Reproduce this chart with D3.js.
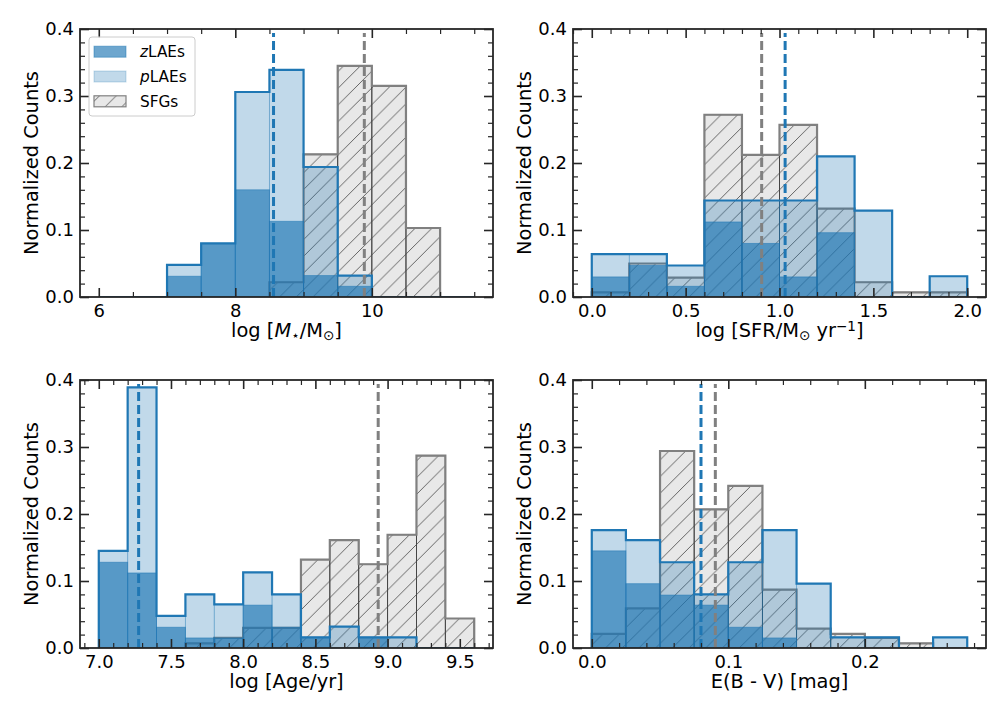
<!DOCTYPE html>
<html>
<head>
<meta charset="utf-8">
<script src="https://cdn.jsdelivr.net/npm/d3@7"></script>
<style>
  body { margin: 0; background: #fff; }
  text { font-family: "DejaVu Sans", sans-serif; white-space: pre; }
</style>
</head>
<body>
<div id="chart"></div>
<script>
// ---- data: bin left edges + normalized counts per sample ----
// stellar mass (bin width 0.5)
const massBins = [6.0, 6.5, 7.0, 7.5, 8.0, 8.5, 9.0, 9.5, 10.0, 10.5, 11.0];
const massZ = [0, 0, 0.031, 0.080, 0.160, 0.113, 0.032, 0.016, 0, 0, 0];
const massP = [0, 0, 0.048, 0.080, 0.306, 0.339, 0.194, 0.032, 0, 0, 0];
const massS = [0, 0, 0, 0, 0, 0.022, 0.213, 0.345, 0.315, 0.103, 0];
const massMedians = [8.56, 9.89]; // LAEs, SFGs
const massTicks = [6, 8, 10];

// SFR (bin width 0.2)
const sfrBins = [0.0, 0.2, 0.4, 0.6, 0.8, 1.0, 1.2, 1.4, 1.6, 1.8];
const sfrZ = [0.030, 0.047, 0.016, 0.112, 0.080, 0.030, 0.096, 0, 0, 0];
const sfrP = [0.064, 0.064, 0.047, 0.144, 0.144, 0.144, 0.210, 0.129, 0, 0.031];
const sfrS = [0.007, 0.050, 0.029, 0.272, 0.212, 0.257, 0.132, 0.022, 0.007, 0.007];
const sfrMedians = [1.03, 0.905];
const sfrTicks = [0.0, 0.5, 1.0, 1.5, 2.0];

// age (bin width 0.2)
const ageBins = [7.0, 7.2, 7.4, 7.6, 7.8, 8.0, 8.2, 8.4, 8.6, 8.8, 9.0, 9.2, 9.4];
const ageZ = [0.128, 0.112, 0.031, 0.015, 0.015, 0.064, 0.031, 0.016, 0, 0.016, 0, 0, 0];
const ageP = [0.145, 0.389, 0.048, 0.080, 0.065, 0.113, 0.080, 0.016, 0.032, 0.016, 0.016, 0, 0];
const ageS = [0, 0, 0, 0.007, 0.015, 0.030, 0.030, 0.132, 0.161, 0.125, 0.169, 0.287, 0.044];
const ageMedians = [7.276, 8.935];
const ageTicks = [7.0, 7.5, 8.0, 8.5, 9.0, 9.5];

// E(B-V) (bin width 0.025)
const ebvBins = [0, 0.025, 0.05, 0.075, 0.1, 0.125, 0.15, 0.175, 0.2, 0.225, 0.25];
const ebvZ = [0.145, 0.096, 0.079, 0.064, 0.031, 0.015, 0, 0, 0, 0, 0];
const ebvP = [0.176, 0.161, 0.128, 0.080, 0.128, 0.176, 0.096, 0.016, 0.016, 0, 0.016];
const ebvS = [0.021, 0.059, 0.294, 0.207, 0.242, 0.087, 0.029, 0.021, 0.015, 0.007, 0];
const ebvMedians = [0.080, 0.0905];
const ebvTicks = [0.0, 0.1, 0.2];

const yTicks = [0.0, 0.1, 0.2, 0.3, 0.4];
const legendLabels = [["z", "LAEs"], ["p", "LAEs"], ["", "SFGs"]];

// ---- layout ----
const W = 413, H = 268;
const blue = "#1f77b4", gray = "#808080", ink = "#262626";

const svg = d3.select("#chart").append("svg")
  .attr("width", 1008).attr("height", 720);

const defs = svg.append("defs");
const hs = 16.7;
defs.append("pattern")
  .attr("id", "hatch")
  .attr("patternUnits", "userSpaceOnUse")
  .attr("width", hs).attr("height", hs)
  .append("path")
  .attr("d", `M0,${hs} L${hs},0 M${-hs / 2},${hs / 2} L${hs / 2},${-hs / 2} M${hs / 2},${hs * 1.5} L${hs * 1.5},${hs / 2}`)
  .attr("stroke", "#555").attr("stroke-width", 0.9);

function addLabel(textSel, parts) {
  parts.forEach(([t, style]) => {
    const ts = textSel.append("tspan").text(t);
    if (style === "it") ts.attr("font-style", "italic");
    if (style === "sub") ts.attr("baseline-shift", "-22%").attr("font-size", "70%");
    if (style === "sup") ts.attr("baseline-shift", "45%").attr("font-size", "70%");
  });
}

function drawPanel(cfg) {
  const g = svg.append("g").attr("transform", `translate(${cfg.left},${cfg.top})`);
  const lo = cfg.bins[0], hi = cfg.bins[cfg.bins.length - 1] + cfg.width;
  const pad = 0.05 * (hi - lo);
  const x = d3.scaleLinear().domain([lo - pad, hi + pad]).range([0, W]);
  const y = d3.scaleLinear().domain([0, 0.4]).range([H, 0]);

  const rows = cfg.bins.map((b, i) => ({ x0: b, x1: b + cfg.width, z: cfg.z[i], p: cfg.p[i], s: cfg.s[i] }));

  const clipId = "clip" + cfg.id;
  defs.append("clipPath").attr("id", clipId).append("rect").attr("width", W).attr("height", H);
  const plot = g.append("g").attr("clip-path", `url(#${clipId})`);

  const bars = (key) => rows.filter(d => d[key] > 0);
  const stepPath = (key) => {
    const pts = [[rows[0].x0, 0]];
    rows.forEach(d => { pts.push([d.x0, d[key]], [d.x1, d[key]]); });
    pts.push([rows[rows.length - 1].x1, 0]);
    return d3.line()(pts.map(([a, b]) => [x(a), y(b)]));
  };

  // SFGs: grey fill + hatch, thin bar edges, thick step outline
  plot.append("g").selectAll("rect").data(bars("s")).join("rect")
    .attr("x", d => x(d.x0)).attr("y", d => y(d.s))
    .attr("width", d => x(d.x1) - x(d.x0)).attr("height", d => y(0) - y(d.s))
    .attr("fill", "#e8e8e8");
  plot.append("g").selectAll("rect").data(bars("s")).join("rect")
    .attr("x", d => x(d.x0)).attr("y", d => y(d.s))
    .attr("width", d => x(d.x1) - x(d.x0)).attr("height", d => y(0) - y(d.s))
    .attr("fill", "url(#hatch)").attr("stroke", "#444").attr("stroke-width", 0.9);
  plot.append("path").attr("d", stepPath("s"))
    .attr("fill", "none").attr("stroke", gray).attr("stroke-width", 2.2);

  // pLAEs
  plot.append("g").selectAll("rect").data(bars("p")).join("rect")
    .attr("x", d => x(d.x0)).attr("y", d => y(d.p))
    .attr("width", d => x(d.x1) - x(d.x0)).attr("height", d => y(0) - y(d.p))
    .attr("fill", blue).attr("fill-opacity", 0.28)
    .attr("stroke", blue).attr("stroke-opacity", 0.3).attr("stroke-width", 0.9);

  // zLAEs
  plot.append("g").selectAll("rect").data(bars("z")).join("rect")
    .attr("x", d => x(d.x0)).attr("y", d => y(d.z))
    .attr("width", d => x(d.x1) - x(d.x0)).attr("height", d => y(0) - y(d.z))
    .attr("fill", blue).attr("fill-opacity", 0.65)
    .attr("stroke", blue).attr("stroke-opacity", 0.55).attr("stroke-width", 0.9);

  plot.append("path").attr("d", stepPath("p"))
    .attr("fill", "none").attr("stroke", blue).attr("stroke-width", 2.2);

  // medians
  [blue, gray].forEach((c, i) => {
    g.append("line")
      .attr("x1", x(cfg.med[i])).attr("x2", x(cfg.med[i]))
      .attr("y1", y(0)).attr("y2", y(0.394))
      .attr("stroke", c).attr("stroke-width", 3)
      .attr("stroke-dasharray", "9,4");
  });

  // axes, ticks pointing inwards on all four sides
  const [d0, d1] = x.domain();
  const minorX = d3.range(Math.ceil(d0 / cfg.minor) * cfg.minor, d1, cfg.minor)
    .filter(v => !cfg.ticks.some(t => Math.abs(t - v) < 1e-6));
  const minorY = d3.range(0, 0.401, 0.02).filter(v => !yTicks.some(t => Math.abs(t - v) < 1e-6));

  const style = (sel, width) => {
    sel.select(".domain").remove();
    sel.selectAll("line").attr("stroke", ink).attr("stroke-width", width);
    sel.selectAll("text").attr("font-size", 18).attr("fill", "#000")
      .attr("font-family", "DejaVu Sans, sans-serif");
  };

  g.append("g").attr("transform", `translate(0,${H})`)
    .call(d3.axisBottom(x).tickValues(cfg.ticks).tickSize(-9).tickPadding(7).tickFormat(cfg.fmt))
    .call(s => style(s, 1.6));
  g.append("g").attr("transform", `translate(0,${H})`)
    .call(d3.axisBottom(x).tickValues(minorX).tickSize(-5).tickFormat(""))
    .call(s => style(s, 1.2));
  g.append("g")
    .call(d3.axisTop(x).tickValues(cfg.ticks).tickSize(-9).tickFormat(""))
    .call(s => style(s, 1.6));
  g.append("g")
    .call(d3.axisTop(x).tickValues(minorX).tickSize(-5).tickFormat(""))
    .call(s => style(s, 1.2));
  g.append("g")
    .call(d3.axisLeft(y).tickValues(yTicks).tickSize(-9).tickPadding(6).tickFormat(d3.format(".1f")))
    .call(s => style(s, 1.6));
  g.append("g")
    .call(d3.axisLeft(y).tickValues(minorY).tickSize(-5).tickFormat(""))
    .call(s => style(s, 1.2));
  g.append("g").attr("transform", `translate(${W},0)`)
    .call(d3.axisRight(y).tickValues(yTicks).tickSize(-9).tickFormat(""))
    .call(s => style(s, 1.6));
  g.append("g").attr("transform", `translate(${W},0)`)
    .call(d3.axisRight(y).tickValues(minorY).tickSize(-5).tickFormat(""))
    .call(s => style(s, 1.2));

  g.append("rect").attr("width", W).attr("height", H)
    .attr("fill", "none").attr("stroke", ink).attr("stroke-width", 1.8);

  // axis labels
  const xl = g.append("text")
    .attr("x", W / 2).attr("y", H + 40)
    .attr("text-anchor", "middle").attr("font-size", 19.4);
  addLabel(xl, cfg.label);

  g.append("text")
    .attr("transform", `translate(-42,${H / 2}) rotate(-90)`)
    .attr("text-anchor", "middle").attr("font-size", 19.4)
    .text("Normalized Counts");

  return g;
}

const p1 = drawPanel({
  id: 1, left: 80, top: 29, bins: massBins, width: 0.5, z: massZ, p: massP, s: massS,
  med: massMedians, ticks: massTicks, minor: 0.5, fmt: d3.format("d"),
  label: [["log ["], ["M", "it"], ["\u22c6", "sub"], ["/M"], ["\u2299", "sub"], ["]"]]
});
drawPanel({
  id: 2, left: 573, top: 29, bins: sfrBins, width: 0.2, z: sfrZ, p: sfrP, s: sfrS,
  med: sfrMedians, ticks: sfrTicks, minor: 0.1, fmt: d3.format(".1f"),
  label: [["log [SFR/M"], ["\u2299", "sub"], [" yr"], ["\u22121", "sup"], ["]"]]
});
drawPanel({
  id: 3, left: 80, top: 380, bins: ageBins, width: 0.2, z: ageZ, p: ageP, s: ageS,
  med: ageMedians, ticks: ageTicks, minor: 0.1, fmt: d3.format(".1f"),
  label: [["log [Age/yr]"]]
});
drawPanel({
  id: 4, left: 573, top: 380, bins: ebvBins, width: 0.025, z: ebvZ, p: ebvP, s: ebvS,
  med: ebvMedians, ticks: ebvTicks, minor: 0.02, fmt: d3.format(".1f"),
  label: [["E(B - V) [mag]"]]
});

// legend in first panel
const lg = p1.append("g").attr("transform", "translate(9,8)");
lg.append("rect").attr("width", 106).attr("height", 79).attr("rx", 3)
  .attr("fill", "#fff").attr("fill-opacity", 0.8)
  .attr("stroke", "#cccccc").attr("stroke-width", 1);

legendLabels.forEach(([it, rest], i) => {
  const row = lg.append("g").attr("transform", `translate(5,${14.7 + i * 24.8})`);
  if (i === 2) {
    row.append("rect").attr("y", -5.5).attr("width", 32).attr("height", 11).attr("fill", "#e8e8e8");
    row.append("rect").attr("y", -5.5).attr("width", 32).attr("height", 11)
      .attr("fill", "url(#hatch)").attr("stroke", gray).attr("stroke-width", 1.2);
  } else {
    row.append("rect").attr("y", -5.5).attr("width", 32).attr("height", 11)
      .attr("fill", blue).attr("fill-opacity", i === 0 ? 0.65 : 0.28)
      .attr("stroke", blue).attr("stroke-opacity", i === 0 ? 0.5 : 0.25).attr("stroke-width", 1);
  }
  const t = row.append("text").attr("x", 46).attr("dy", "0.36em").attr("font-size", 15.3);
  if (it) t.append("tspan").attr("font-style", "italic").text(it);
  t.append("tspan").text(rest);
});
</script>
</body>
</html>
